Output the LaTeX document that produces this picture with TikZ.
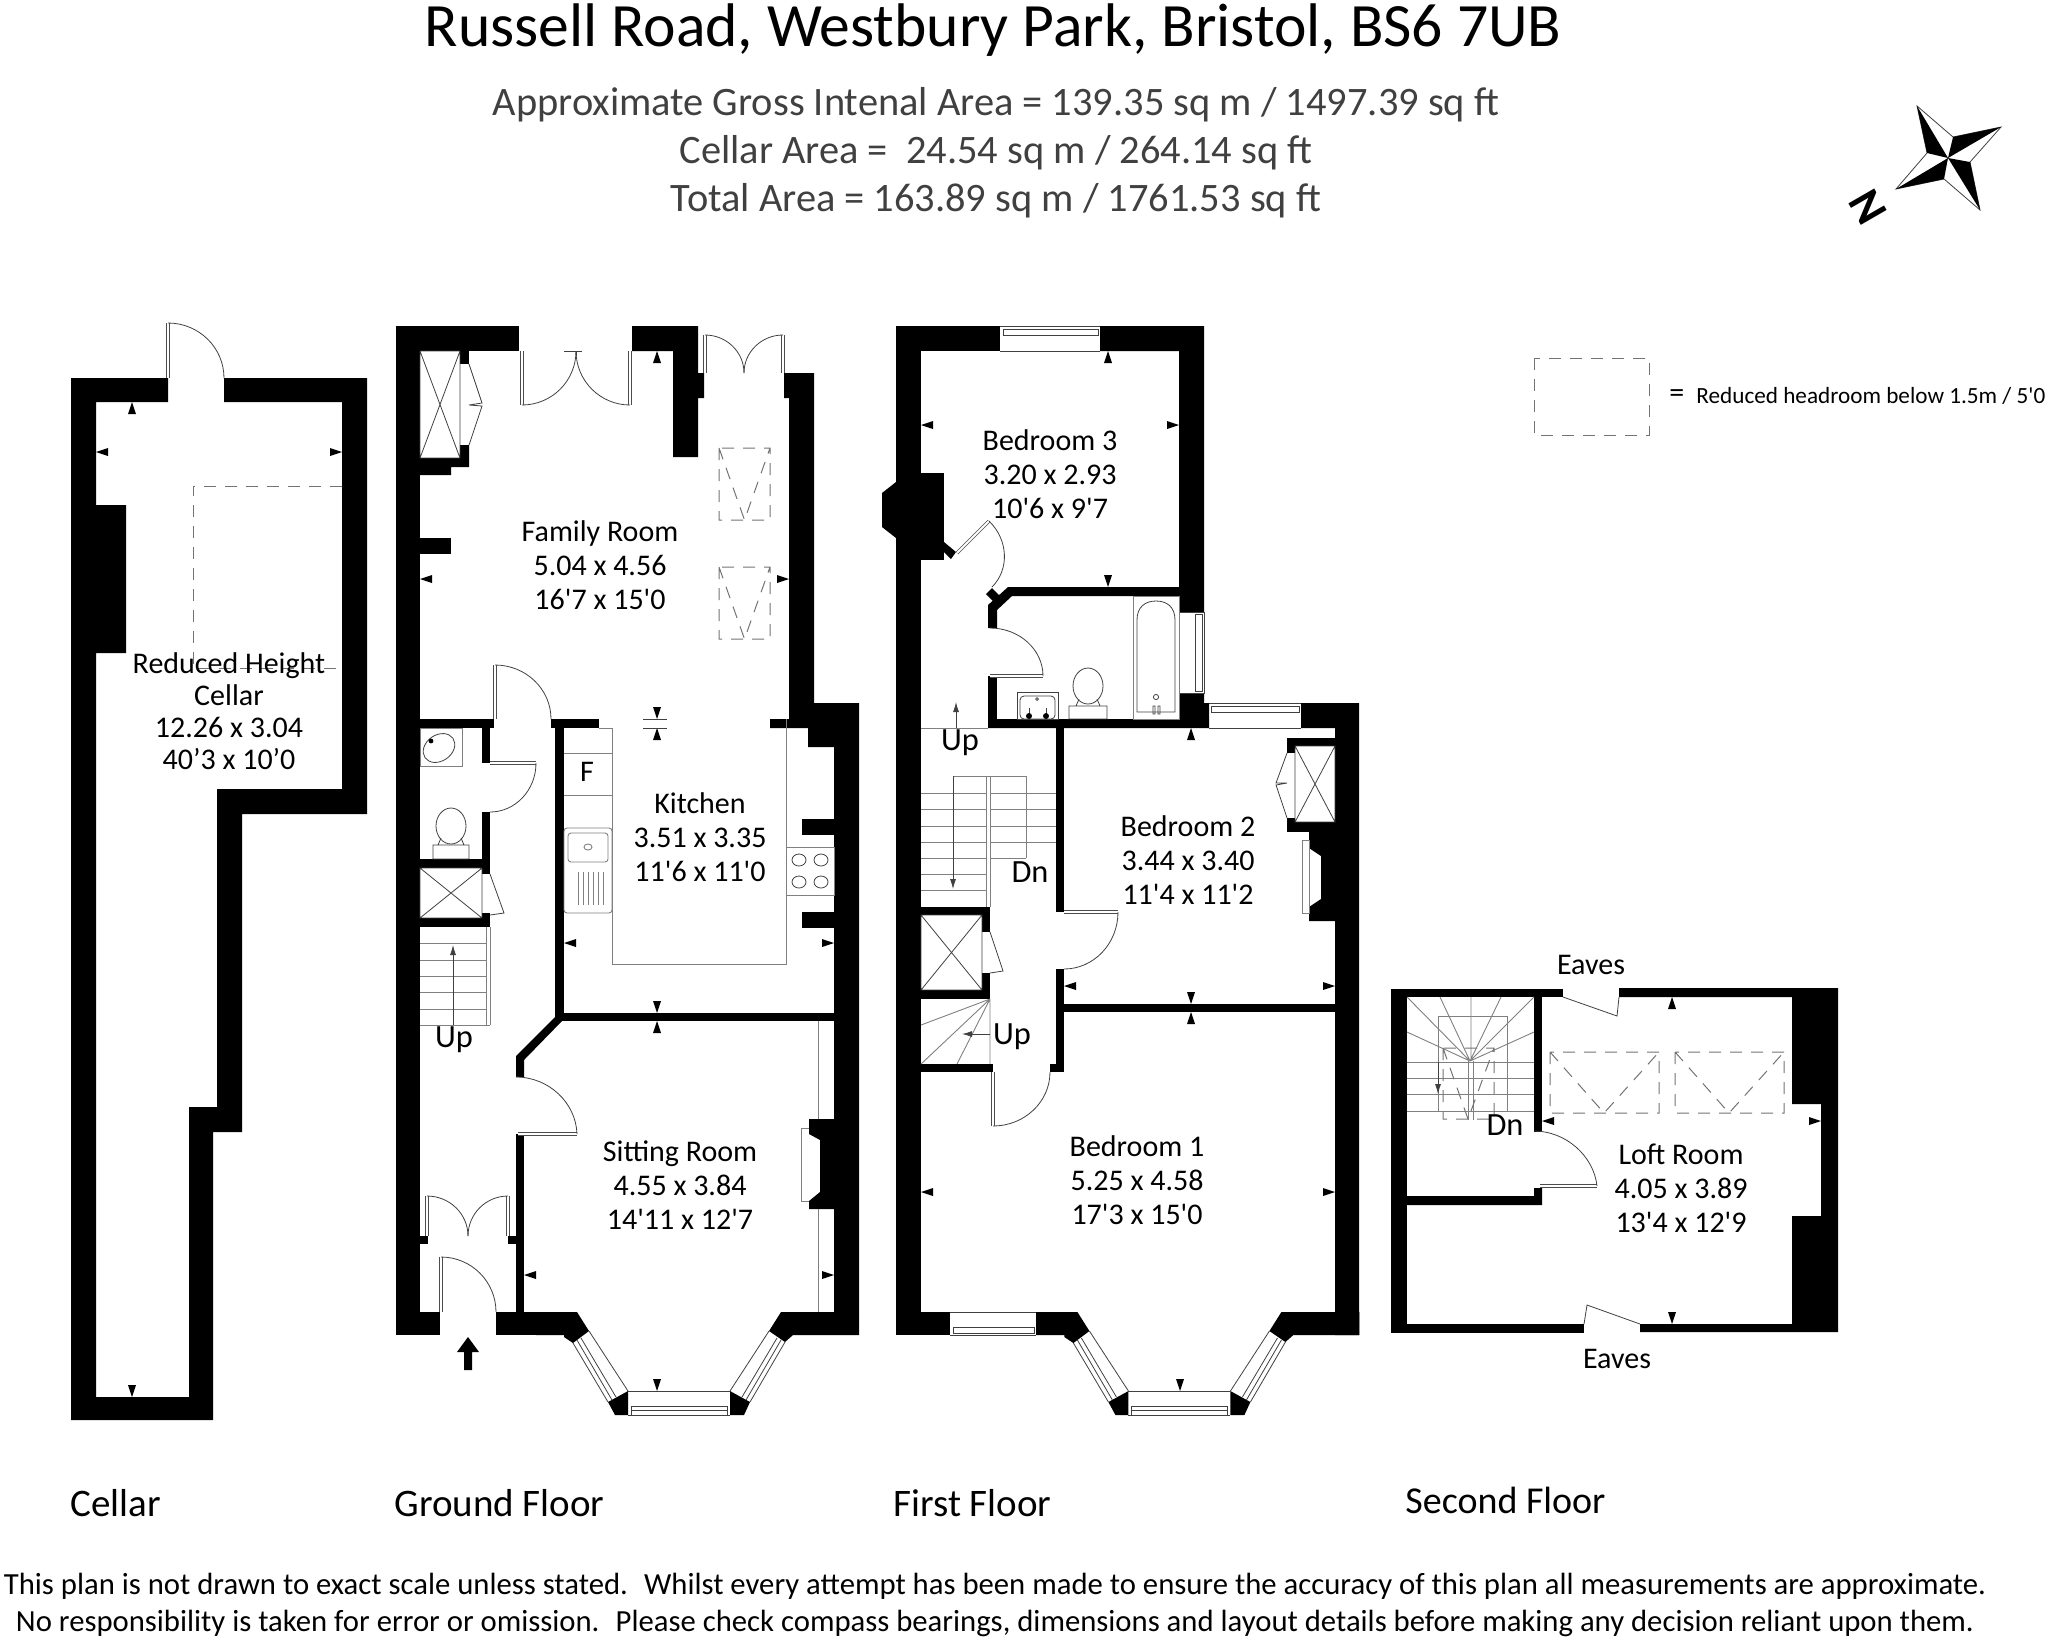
\documentclass[tikz,border=0pt]{standalone}
\usepackage{fontspec}
\setmainfont{Carlito}[Ligatures=TeXOff]
\usetikzlibrary{calc,arrows.meta}
\newcommand\dimU[2]{\fill (#1,#2)--++(-4,12)--++(8,0)--cycle;}
\newcommand\dimD[2]{\fill (#1,#2)--++(-4,-12)--++(8,0)--cycle;}
\newcommand\dimL[2]{\fill (#1,#2)--++(12,-4)--++(0,8)--cycle;}
\newcommand\dimR[2]{\fill (#1,#2)--++(-12,-4)--++(0,8)--cycle;}
\newcommand\swing[3]{\draw[doorleaf] (#1)--(#2);\draw[fine] (#2) .. controls ($(#2)+.5523*(#3)-.5523*(#1)$) and ($(#3)+.5523*(#2)-.5523*(#1)$) .. (#3);}
\newcommand\bayfront{%
 \fill (577,1312)--(589,1331)--(573,1343)--(564,1337)--(564,1335)--(536,1335)--(536,1312)--cycle;
 \fill (608,1402)--(628,1391)--(628,1415)--(615,1415)--cycle;
 \fill (730,1391)--(750,1402)--(744,1415)--(730,1415)--cycle;
 \fill (781,1312)--(769,1331)--(785,1342)--(793,1335)--(859,1335)--(859,1312)--cycle;
 \draw[fine] (589,1331)--(628,1391) (573,1343)--(608,1402) (577,1340)--(612,1400) (581,1338)--(616,1397);
 \draw[fine] (769,1331)--(730,1391) (785,1342)--(750,1402) (781,1340)--(746,1400) (777,1338)--(742,1397);
 \draw[fine] (628,1391)--(730,1391) (628,1415)--(730,1415) (631,1406)--(727,1406) (631,1410)--(727,1410) (631,1406)--(631,1415) (727,1406)--(727,1415);
}
\tikzset{
 fine/.style={draw=black!75,line width=.4pt},
 pale/.style={draw=black!50,line width=.45pt},
 doorleaf/.style={draw=black!70,line width=.35pt,double=white,double distance=1pt},
 headroom/.style={draw=black!55,line width=.5pt,dash pattern=on 6pt off 4.5pt},
 room/.style={align=center,inner sep=0pt,text=black,font=\fontsize{15}{17}\selectfont},
 floorname/.style={anchor=west,inner sep=0pt,font=\fontsize{19.5}{21}\selectfont},
 headline/.style={inner sep=0pt,text=black!75,font=\fontsize{20.2}{22}\selectfont},
 small/.style={inner sep=0pt,font=\fontsize{15}{17}\selectfont},
 stairword/.style={inner sep=0pt,font=\fontsize{16.2}{17}\selectfont},
 notice/.style={inner sep=0pt,font=\fontsize{15.35}{17}\selectfont},
}
\begin{document}
\begin{tikzpicture}[x=.5pt,y=-.5pt]
\useasboundingbox (0,0) rectangle (2048,1640);
% ---------- header
\node[inner sep=0pt,font=\fontsize{30.8}{33}\selectfont] (title) at (993,30) {Russell Road, Westbury Park, Bristol, BS6 7UB};
\node[headline] (area1) at (996,105) {Approximate Gross Intenal Area = 139.35 sq m / 1497.39 sq ft};
\node[headline] (area2) at (996,153) {Cellar Area = \ 24.54 sq m / 264.14 sq ft};
\node[headline] (area3) at (996,201) {Total Area = 163.89 sq m / 1761.53 sq ft};
% ---------- compass
\draw[fine,fill=white] (1917,106)--(1953,137)--(2001,127)--(1970,162)--(1980,210)--(1944,179)--(1896,189)--(1927,153)--cycle;
\fill (1948,158)--(1917,106)--(1927,153)--cycle (1948,158)--(2001,127)--(1953,137)--cycle (1948,158)--(1980,210)--(1970,162)--cycle (1948,158)--(1896,189)--(1944,179)--cycle;
\node[inner sep=0pt,rotate=-60,font=\fontsize{23}{23}\selectfont\bfseries] (north) at (1868,207) {N};
% ---------- legend
\draw[headroom] (1534,358) rectangle (1649,435);
\node[inner sep=0pt,anchor=west,font=\fontsize{15}{15}\selectfont] (legendeq) at (1669,396) {=};
\node[inner sep=0pt,anchor=west,font=\fontsize{11.6}{13}\selectfont] (legend) at (1696,396) {Reduced headroom below 1.5m / 5'0};
% ---------- cellar
\fill (168,378)--(71,378)--(71,1420)--(213,1420)--(213,1132)--(242,1132)--(242,814)--(367,814)--(367,378)--(224,378)--(224,402)--(342,402)--(342,789)--(217,789)--(217,1107)--(189,1107)--(189,1397)--(96,1397)--(96,653)--(126,653)--(126,505)--(96,505)--(96,402)--(168,402)--cycle;
\swing{168,378}{168,323}{224,378}
\dimU{132}{402}\dimL{96}{452}\dimR{342}{452}\dimD{132}{1397}
\draw[headroom] (342,486)--(193,486)--(193,668)--(342,668);
\node[room,font=\fontsize{15}{16}\selectfont] (cellar) at (229,711) {Reduced Height\\Cellar\\12.26 x 3.04\\40’3 x 10’0};
% ---------- ground floor walls
\fill (396,326) rectangle (420,1335);
\fill (396,326) rectangle (519,351);
\fill (396,1312) rectangle (440,1335);
\fill (632,326)--(698,326)--(698,373)--(704,373)--(704,398)--(698,398)--(698,457)--(673,457)--(673,351)--(632,351)--cycle;
\fill (784,373)--(814,373)--(814,703)--(859,703)--(859,1312)--(834,1312)--(834,747)--(808,747)--(808,728)--(770,728)--(770,719)--(789,719)--(789,398)--(784,398)--cycle;
\bayfront
\fill (496,1312) rectangle (537,1335);
\fill (551,719) rectangle (599,728);
\fill (555,728) rectangle (564,1018);
\fill (556,1013) rectangle (834,1021);
\fill (556,1016)--(516,1056)--(516,1077)--(524,1077)--(524,1060)--(562,1021)--cycle;
\fill (516,1134) rectangle (524,1312);
\fill (420,719) rectangle (494,728);
\fill (482,728) rectangle (490,763);
\fill (482,812) rectangle (490,874);
\fill (420,859) rectangle (490,868);
\fill (482,913) rectangle (490,927);
\fill (420,918) rectangle (490,927);
\fill (420,1236) rectangle (428,1244);
\fill (508,1236) rectangle (516,1244);
\fill (460,351) rectangle (469,364);
\fill (420,458)--(460,458)--(460,445)--(469,445)--(469,467)--(451,467)--(451,475)--(420,475)--cycle;
\fill (420,538) rectangle (451,554);
\fill (834,1119)--(809,1119)--(809,1134)--(820,1140)--(820,1192)--(809,1201)--(809,1209)--(834,1209)--cycle;
\fill (802,819) rectangle (834,835);
\fill (802,912) rectangle (834,928);
% ground floor doors
\swing{522,351}{522,405}{576,351}
\swing{630,351}{630,405}{576,351}
\draw[fine] (564,351)--(582,351) (576,351)--(576,356);
\swing{705,373}{705,335}{744,373}
\swing{783,373}{783,335}{744,373}
\swing{495,719}{495,665}{551,719}
\swing{490,763}{536,763}{490,812}
\swing{441,1312}{441,1257}{496,1312}
\swing{427,1236}{427,1196}{468,1236}
\swing{508,1236}{508,1196}{468,1236}
\swing{518,1134}{577,1134}{516,1077}
\draw[fine] (469,364)--(482,403)--(469,405) (469,445)--(482,406)--(469,405);
\draw[fine] (490,874)--(504,913)--(490,915);
% ground floor fittings
\draw[fine] (420,351) rectangle (460,458) (420,351)--(460,458) (460,351)--(420,458);
\draw[fine] (420,868) rectangle (482,918) (420,868)--(482,918) (482,868)--(420,918);
\draw[pale] (420,728) rectangle (462,766);
\draw[fine,rotate around={35:(439,748)}] (439,748) ellipse (8.5pt and 6.5pt);
\fill (431,741) circle (1.2pt);
\draw[fine] (451,826) ellipse (7.5pt and 9pt);
\draw[fine] (433,845) rectangle (469,859) (438,845)--(441,838) (464,845)--(461,838);
\draw[pale] (420,943)--(486,943) (420,960)--(486,960) (420,976)--(486,976) (420,992)--(486,992) (420,1009)--(486,1009) (420,1025)--(490,1025) (486,927)--(486,1025) (490,927)--(490,1025);
\draw[fine,-{Latex[length=5pt,width=3pt]}] (453,1025)--(453,945);
\node[stairword] (up1) at (454,1040) {Up};
\draw[pale] (564,753)--(612,753) (564,795)--(612,795) (599,728)--(612,728) (612,728)--(612,964)--(786,964)--(786,728);
\node[small] (fridge) at (587,772) {F};
\draw[pale,rounded corners=1.5pt] (564,828) rectangle (612,913) (568,833) rectangle (608,862);
\draw[pale] (588,847) ellipse (2pt and 1.5pt);
\draw[pale] (578,872)--(578,905) (583,872)--(583,905) (588,872)--(588,905) (593,872)--(593,905) (598,872)--(598,905) (603,872)--(603,905);
\draw[pale] (786,847) rectangle (834,895);
\draw[fine] (799,860) ellipse (3.5pt and 3pt) (821,860) ellipse (3.5pt and 3pt) (799,882) ellipse (3.5pt and 3pt) (821,882) ellipse (3.5pt and 3pt);
\draw[pale] (818,1021)--(818,1119) (818,1209)--(818,1312) (809,1128)--(801,1128)--(801,1201)--(809,1201);
\draw[pale] (786,728)--(786,719);
\draw[headroom] (719,448) rectangle (770,520) (719,448)--(744.5,520)--(770,448);
\draw[headroom] (719,567) rectangle (770,639) (719,567)--(744.5,639)--(770,567);
\dimU{657}{351}\dimL{420}{579}\dimR{789}{579}\dimD{657}{719}\dimU{657}{728}
\draw[fine] (643,719)--(667,719) (643,728)--(667,728);
\dimL{564}{943}\dimR{834}{943}\dimD{657}{1013}\dimU{657}{1021}\dimL{524}{1275}\dimR{834}{1275}\dimD{657}{1391}
\fill (468,1337)--(479,1352)--(472,1352)--(472,1370)--(464,1370)--(464,1352)--(457,1352)--cycle;
\node[room] (family) at (600,565) {Family Room\\5.04 x 4.56\\16'7 x 15'0};
\node[room] (kitchen) at (700,837) {Kitchen\\3.51 x 3.35\\11'6 x 11'0};
\node[room] (sitting) at (680,1185) {Sitting Room\\4.55 x 3.84\\14'11 x 12'7};
% ---------- first floor walls
\fill (896,326) rectangle (921,1335);
\fill (896,326) rectangle (1000,351);
\fill (1100,326)--(1204,326)--(1204,612)--(1179,612)--(1179,351)--(1100,351)--cycle;
\fill (896,482)--(882,493)--(882,527)--(896,538)--cycle;
\fill (921,473) rectangle (944,560);
\fill (944,542)--(956,552)--(951,559)--(944,552)--cycle;
\fill (1008,587)--(1179,587)--(1179,596)--(1012,596)--(997,610)--(997,628)--(988,628)--(988,605)--cycle;
\fill (992,588)--(1001,597)--(995,603)--(986,594)--cycle;
\fill (988,676) rectangle (997,728);
\fill (988,719)--(1179,719)--(1179,693)--(1204,693)--(1204,703)--(1209,703)--(1209,728)--(988,728)--cycle;
\fill (1301,703)--(1359,703)--(1359,1335)--(1335,1335)--(1335,728)--(1301,728)--cycle;
\fill (1056,728) rectangle (1064,912);
\fill (1056,969) rectangle (1064,1072);
\fill (1050,1064) rectangle (1056,1072);
\fill (1064,1004) rectangle (1335,1012);
\fill (1287,738) rectangle (1335,746);
\fill (1287,746) rectangle (1295,753);
\fill (1287,822) rectangle (1335,832);
\fill (1287,818) rectangle (1295,822);
\fill (1335,832)--(1309,832)--(1309,848)--(1321,856)--(1321,899)--(1309,907)--(1309,921)--(1335,921)--cycle;
\fill (921,907) rectangle (990,915);
\fill (982,915) rectangle (990,932);
\fill (982,973) rectangle (990,999);
\fill (921,990) rectangle (990,999);
\fill (921,1064) rectangle (993,1072);
\fill (896,1312) rectangle (950,1335);
\fill (1036,1312) rectangle (1040,1335);
\begin{scope}[xshift=250.2pt]\bayfront\end{scope}
% first floor windows
\draw[fine] (1000,351)--(1100,351) (1003,329) rectangle (1098,335) (1000,326)--(1100,326);
\draw[fine] (1179,612) rectangle (1204,693) (1195,614) rectangle (1202,691);
\draw[fine] (1209,728)--(1301,728) (1209,703)--(1301,703) (1211,706) rectangle (1299,712);
\draw[fine] (950,1312)--(1036,1312) (950,1335)--(1036,1335) (953,1327) rectangle (1034,1333);
% first floor doors
\swing{957,553}{989,521}{992,587}
\swing{990,676}{1043,676}{990,628}
\swing{1064,912}{1118,912}{1064,969}
\swing{993,1072}{993,1126}{1050,1072}
\draw[fine] (1287,753)--(1276,783)--(1287,783) (1287,818)--(1276,785)--(1287,783);
\draw[fine] (990,932)--(1003,971)--(990,973);
% first floor fittings
\draw[fine] (1295,746) rectangle (1335,822) (1295,746)--(1335,822) (1335,746)--(1295,822);
\draw[fine] (921,915) rectangle (982,990) (921,915)--(982,990) (982,915)--(921,990);
\draw[pale] (1302,840) rectangle (1309,913);
\draw[pale] (921,728)--(988,728);
\draw[fine,-{Latex[length=5pt,width=3pt]}] (956,728)--(956,702);
\node[stairword] (up2) at (960,743) {Up};
\draw[pale] (921,793)--(986,793) (921,809)--(986,809) (921,826)--(986,826) (921,842)--(986,842) (921,858)--(986,858) (921,874)--(986,874) (921,890)--(986,890);
\draw[pale] (990,793)--(1056,793) (990,809)--(1056,809) (990,826)--(1056,826) (990,842)--(1056,842) (990,858)--(1026,858);
\draw[pale] (986,776)--(986,907) (990,776)--(990,907) (953,776)--(1026,776)--(1026,858);
\draw[fine,-{Latex[length=5pt,width=3pt]}] (953,776)--(953,889);
\node[stairword] (dn1) at (1030,872) {Dn};
\draw[pale] (990,999)--(990,1064) (990,999)--(921,1025) (990,999)--(921,1064) (990,999)--(957,1064);
\draw[fine,-{Latex[length=5pt,width=3pt]}] (990,1034)--(962,1034);
\node[stairword] (up3) at (1012,1037) {Up};
\draw[fine] (1017,692) rectangle (1058,719);
\draw[fine,rounded corners=2pt] (1020,696) rectangle (1055,719);
\draw[fine] (1029,708)--(1029,716) (1046,708)--(1046,716);
\fill (1029,716) circle (1.5pt) (1046,716) circle (1.5pt);
\draw[fine] (1037,699) circle (.7pt);
\draw[fine] (1088,686) ellipse (7.5pt and 9pt);
\draw[fine] (1069,706) rectangle (1107,719) (1076,706)--(1079,699) (1100,706)--(1097,699);
\draw[pale] (1133,596) rectangle (1179,719);
\draw[fine] (1137,712)--(1137,620) .. controls (1137,607) and (1145,601) .. (1156,601) .. controls (1167,601) and (1175,607) .. (1175,620)--(1175,712)--cycle;
\draw[fine] (1156,697) circle (1.3pt) (1153,706) rectangle (1155,714) (1158,706) rectangle (1160,714);
\dimU{1108}{351}\dimL{921}{425}\dimR{1179}{425}\dimD{1108}{587}
\dimU{1191}{728}\dimL{1064}{986}\dimR{1335}{986}\dimD{1191}{1004}\dimU{1191}{1012}
\dimL{921}{1192}\dimR{1335}{1192}\dimD{1180}{1391}
\node[room] (bed3) at (1050,474) {Bedroom 3\\3.20 x 2.93\\10'6 x 9'7};
\node[room] (bed2) at (1188,860) {Bedroom 2\\3.44 x 3.40\\11'4 x 11'2};
\node[room] (bed1) at (1137,1180) {Bedroom 1\\5.25 x 4.58\\17'3 x 15'0};
% ---------- second floor walls
\fill (1391,989) rectangle (1407,1333);
\fill (1391,989) rectangle (1563,997);
\fill (1391,1324) rectangle (1584,1333);
\fill (1619,988)--(1838,988)--(1838,1332)--(1640,1332)--(1640,1324)--(1792,1324)--(1792,1216)--(1821,1216)--(1821,1104)--(1792,1104)--(1792,997)--(1619,997)--cycle;
\fill (1534,997) rectangle (1542,1132);
\fill (1407,1196)--(1534,1196)--(1534,1188)--(1542,1188)--(1542,1205)--(1407,1205)--cycle;
\swing{1540,1186}{1597,1186}{1534,1131}
\draw[fine] (1563,997)--(1617,1016)--(1619,997);
\draw[fine] (1640,1324)--(1587,1305)--(1584,1324);
\draw[pale] (1407,1062)--(1534,1062) (1407,1078)--(1534,1078) (1407,1094)--(1534,1094) (1407,1111)--(1534,1111);
\draw[pale] (1470,1061)--(1407,997) (1470,1061)--(1440,997) (1471,1061)--(1471,997) (1470,1061)--(1501,997) (1470,1061)--(1534,997) (1470,1061)--(1407,1032) (1470,1061)--(1534,1032);
\draw[pale] (1438,1016) rectangle (1507,1111);
\draw[pale] (1468,1061)--(1468,1120) (1473,1061)--(1473,1120);
\draw[fine,-{Latex[length=5pt,width=3pt]}] (1438,1062)--(1438,1094);
\draw[headroom] (1443,1048) rectangle (1494,1119) (1443,1048)--(1468,1119)--(1494,1048);
\draw[headroom] (1550,1052) rectangle (1659,1113) (1550,1052)--(1604,1113)--(1659,1052);
\draw[headroom] (1675,1052) rectangle (1784,1113) (1675,1052)--(1729,1113)--(1784,1052);
\dimU{1672}{997}\dimL{1542}{1121}\dimR{1821}{1121}\dimD{1672}{1324}
\node[stairword] (dn2) at (1505,1125) {Dn};
\node[room] (loft) at (1681,1188) {Loft Room\\4.05 x 3.89\\13'4 x 12'9};
\node[small] (eaves1) at (1591,965) {Eaves};
\node[small] (eaves2) at (1617,1359) {Eaves};
% ---------- floor names
\node[floorname] (nameC) at (70,1503) {Cellar};
\node[floorname] (nameG) at (394,1503) {Ground Floor};
\node[floorname] (nameF) at (893,1503) {First Floor};
\node[floorname,font=\fontsize{19}{21}\selectfont] (nameS) at (1405,1500) {Second Floor};
% ---------- disclaimer
\node[notice] (note1) at (995,1586) {This plan is not drawn to exact scale unless stated. \ Whilst every attempt has been made to ensure the accuracy of this plan all measurements are approximate.};
\node[notice] (note2) at (995,1623) {No responsibility is taken for error or omission. \ Please check compass bearings, dimensions and layout details before making any decision reliant upon them.};
\end{tikzpicture}
\end{document}
